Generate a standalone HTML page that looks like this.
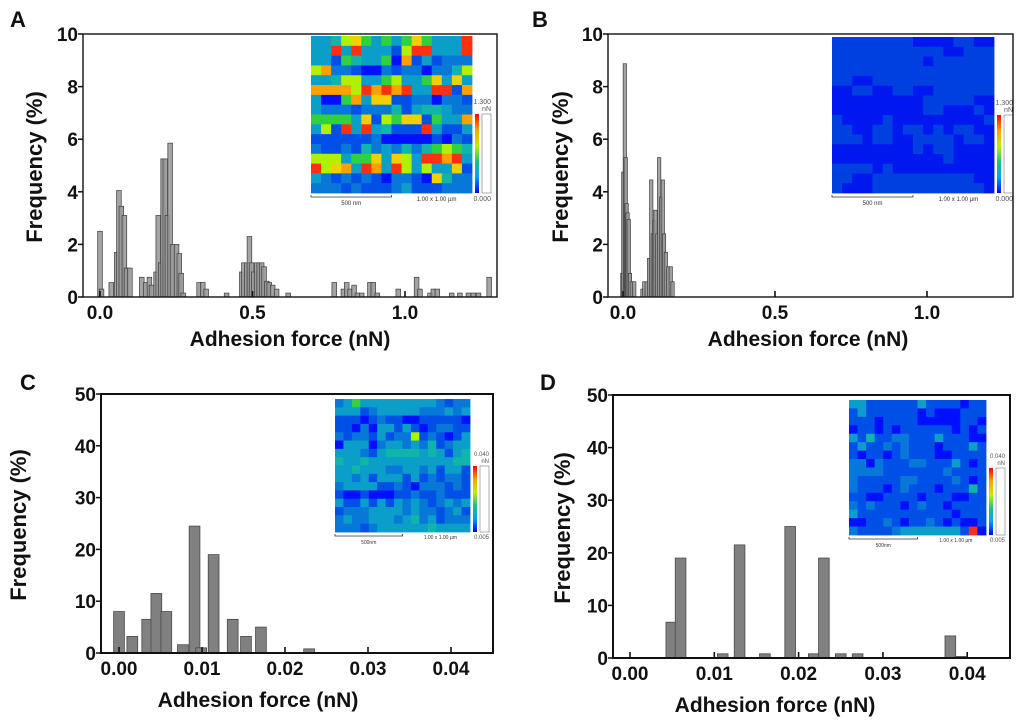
<!DOCTYPE html>
<html><head><meta charset="utf-8"><style>
html,body{margin:0;padding:0;background:#fff}
svg{display:block}
text{font-family:"Liberation Sans",Arial,sans-serif;font-weight:bold;fill:#111}
</style></head><body>
<svg id="fig" width="1024" height="720" viewBox="0 0 1024 720"></svg>
<script>
// ===== Panel A data =====
const aX=[0.000,0.005,0.037,0.055,0.062,0.070,0.080,0.087,0.098,0.137,0.150,0.162,0.169,0.184,0.191,0.199,0.207,0.214,0.221,0.230,0.238,0.251,0.260,0.266,0.273,0.325,0.337,0.348,0.415,0.465,0.472,0.481,0.490,0.497,0.505,0.514,0.522,0.530,0.538,0.547,0.555,0.566,0.579,0.617,0.768,0.798,0.809,0.820,0.833,0.844,0.858,0.885,0.896,0.909,0.978,1.038,1.049,1.082,1.093,1.106,1.153,1.180,1.208,1.224,1.241,1.276];
const aY=[2.5,0.3,0.55,1.7,4.05,3.45,3.1,1.1,1.1,0.75,0.55,0.75,0.45,0.95,3.1,1.3,5.25,5.25,3.1,5.85,2.0,2.0,1.65,0.9,0.15,0.55,0.55,0.3,0.15,0.95,1.3,1.3,2.3,1.3,0.95,1.3,1.3,1.3,1.15,0.6,0.55,0.45,0.3,0.15,0.55,0.3,0.55,0.3,0.45,0.15,0.15,0.55,0.55,0.15,0.3,0.75,0.3,0.15,0.3,0.3,0.15,0.15,0.15,0.15,0.15,0.75];
const aXTicks=[0,0.5,1.0];const aXLabels=["0.0","0.5","1.0"];
const aYTicks=[0,2,4,6,8,10];
const aMap=["3346753535753339","3393933316993339","3315433508131222","6822100212202246","3346633563357373","8888698989339918","3005837711220221","3222122241344322","5555371657715338","3619393411193113","1111112000001021","2112142324245654","6663557376399893","9678398396363371","3212121022107422","2221211123111222"];
// ===== Panel B data =====
const bX=[-0.002,0.001,0.006,0.009,0.012,0.015,0.019,0.023,0.029,0.037,0.064,0.070,0.078,0.086,0.093,0.098,0.103,0.107,0.113,0.119,0.125,0.131,0.135,0.141,0.149,0.157,0.163];
const bY=[0.9,4.75,8.87,5.3,3.55,3.2,2.95,0.9,0.58,0.58,0.3,0.58,0.58,1.47,4.45,2.4,2.9,3.3,2.4,5.3,3.8,4.45,2.4,1.7,1.15,1.15,0.58];
const bMap=["1111111100001100","1111111111100111","1111111110111111","1111111111111111","1100111111111111","0011001100111111","0000000001111100","0000000001100010","1000010000000001","1100110110101100","1110110011110110","0000000010110000","0000000000010000","1111010000000000","1100111111111100","1000111111111110"];
// ===== Panel C data =====
const cX=[0.0000,0.0016,0.0034,0.0045,0.0057,0.0077,0.0091,0.0099,0.0114,0.0137,0.0153,0.0171,0.0229];
const cY=[8,3.2,6.5,11.5,8,1.6,24.5,1,19,6.5,3.2,5,0.8];
const cXTicks=[0,0.01,0.02,0.03,0.04];const cXLabels=["0.00","0.01","0.02","0.03","0.04"];
const cYTicks=[0,10,20,30,40,50];
const cMap=["2353333333332122","3331233333222323","1110121100111110","1102033131012211","2122131226121013","0333023323241233","3332134444343134","4334333333333344","3343332233231331","3323133313121221","2333311210222121","1001000112112111","3113131323212323","1222333323221231","2322333234231222","2221233333343333"];
// ===== Panel D data =====
const dX=[0.0049,0.0060,0.0110,0.0130,0.0160,0.0190,0.0218,0.0230,0.0250,0.0270,0.0380,0.0392];
const dY=[6.8,19,0.8,21.5,0.8,25,0.8,19,0.8,0.8,4.2,0.3];
const dMap=["3311111131111011","1311111101000111","1110111100000110","0110101111110101","3141122111311100","1311212111011131","1011012111001111","2202111221113101","2222111111121111","2111112211112101","2111012111011141","1100111101110011","2121110121101111","3111111111110111","0011210112101001","2111123333333190"];

const pal=["#0010ff","#0050e8","#0878d8","#0a9ec8","#10b4a8","#30d040","#b0f000","#f0d000","#ffa000","#ff3010"];
const svg=document.getElementById('fig');const NS='http://www.w3.org/2000/svg';
function mk(t,a,p){const e=document.createElementNS(NS,t);for(const k in a)e.setAttribute(k,a[k]);(p||svg).appendChild(e);return e;}

function panel(o){
  const g=mk('g',{});
  
  
  const sx=v=>o.x0+(v-o.xmin)*o.kx, sy=v=>o.y0-v*o.ky;
  const L=mk('text',{x:o.lx,y:o.ly,'font-size':22},g);L.textContent=o.letter;
  
  
  const ig=mk('g',{},g);
  
  
  const n=o.map.length,m=o.map[0].length,cw=(o.ix1-o.ix0)/m,ch=(o.iy1-o.iy0)/n;
  for(let r=0;r<n;r++)for(let c=0;c<m;c++){
    const cell=mk('rect',{x:(o.ix0+c*cw).toFixed(2),y:(o.iy0+r*ch).toFixed(2),width:(cw+0.4).toFixed(2),height:(ch+0.4).toFixed(2),fill:(o.pal||pal)[+o.map[r][c]]},ig);
    
    
  }
  const gid='cb'+o.letter;
  const gr=mk('linearGradient',{id:gid,x1:0,y1:1,x2:0,y2:0},ig);
  ["#0000ff","#00a0ff","#20c080","#c0f000","#ffa000","#ff0000"].forEach((c,i)=>mk('stop',{offset:i/5,'stop-color':c},gr));
  const cbx=o.ix1+3;
  const cb=mk('rect',{x:cbx,y:o.cby,width:4,height:o.iy1-o.cby,fill:'url(#'+gid+')'},ig);
  
  
  mk('rect',{x:cbx+7,y:o.cby,width:9,height:o.iy1-o.cby,fill:'#fff',stroke:'#777','stroke-width':0.6},ig);
  const fs=o.small;
  let t=mk('text',{x:cbx+16,y:o.cby-10,'font-size':fs,'text-anchor':'end',style:'font-weight:normal;fill:#555'},ig);t.textContent=o.cmax;
  t=mk('text',{x:cbx+16,y:o.cby-3,'font-size':fs,'text-anchor':'end',style:'font-weight:normal;fill:#555'},ig);t.textContent='nN';
  t=mk('text',{x:cbx+16,y:o.iy1+fs+1,'font-size':fs,'text-anchor':'end',style:'font-weight:normal;fill:#555'},ig);t.textContent=o.cmin;
  const sbw=(o.ix1-o.ix0)/2;
  mk('path',{d:`M${o.ix0},${o.iy1+2}v2h${sbw}v-2`,stroke:'#333',fill:'none','stroke-width':0.8},ig);
  t=mk('text',{x:o.ix0+sbw/2,y:o.iy1+12,'font-size':fs-1,'text-anchor':'middle',style:'font-weight:normal;fill:#333'},ig);t.textContent=o.sbl;
  t=mk('text',{x:o.ix0+(o.ix1-o.ix0)*0.78,y:o.iy1+fs+1,'font-size':fs-1,'text-anchor':'middle',style:'font-weight:normal;fill:#333'},ig);t.textContent='1.00 x 1.00 µm';
  const bg=mk('g',{},g);
  
  
  o.xs.forEach((v,i)=>{
    const h=o.ys[i]*o.ky, w=o.bw*o.kx;
    const b=mk('rect',{x:(sx(v)-w/2).toFixed(2),y:sy(o.ys[i]).toFixed(2),width:w.toFixed(2),height:h.toFixed(2),fill:o.fill,stroke:o.stroke,'stroke-width':o.sw,'fill-opacity':o.fo},bg);
    
    
  });
  const box=mk('rect',{x:o.bx0,y:o.by0,width:o.bx1-o.bx0,height:o.y0-o.by0,fill:'none',stroke:'#111','stroke-width':o.bsw},g);
  
  
  o.yt.forEach(v=>{
    mk('line',{x1:o.bx0-5,x2:o.bx0,y1:sy(v),y2:sy(v),stroke:'#111','stroke-width':1.5},g);
    const yl=mk('text',{x:o.bx0-5,y:sy(v)+7,'font-size':o.tfs,'text-anchor':'end'},g);yl.textContent=v;
    
    
  });
  o.xt.forEach((v,i)=>{
    mk('line',{x1:sx(v),x2:sx(v),y1:o.y0,y2:o.y0-6,stroke:'#111','stroke-width':1.6},g);
    const xl=mk('text',{x:sx(v),y:o.y0+o.tfs+3,'font-size':o.tfs,'text-anchor':'middle'},g);xl.textContent=o.xl[i];
    
    
  });
  const xt=mk('text',{x:o.xtx,y:o.xty,'font-size':21,'text-anchor':'middle'},g);xt.textContent='Adhesion force (nN)';
  
  
  const yt=mk('text',{x:0,y:0,'font-size':22,'text-anchor':'middle',transform:`translate(${o.ytx},${o.yty}) rotate(-90)`},g);yt.textContent='Frequency (%)';
  
  
}
const bPal=["#0018f0","#0040e0","#0860d8","#0a9ec8","#10b4a8","#30d040","#b0f000","#f0d000","#ffa000","#ff3010"];
panel({name:'panel-a',letter:'A',lx:10,ly:27,xs:aX,ys:aY,bw:0.0153,xmin:0,x0:100,kx:305,y0:297,ky:26.3,bx0:83,bx1:497,by0:34,bsw:1.4,
  yt:aYTicks,xt:aXTicks,xl:aXLabels,tfs:19,xtx:290,xty:346,ytx:42,yty:167,fill:'#9a9a9a',stroke:'#3c3c3c',sw:0.7,fo:0.9,
  map:aMap,ix0:311,ix1:472,iy0:36,iy1:193,cby:114,cmax:'1.300',cmin:'0.000',sbl:'500 nm',small:7});
panel({name:'panel-b',letter:'B',lx:532,ly:27,xs:bX,ys:bY,bw:0.011,xmin:0,x0:623,kx:304,y0:297,ky:26.3,bx0:608,bx1:1013,by0:34,bsw:1.4,
  yt:aYTicks,xt:aXTicks,xl:aXLabels,tfs:19,xtx:808,xty:346,ytx:568,yty:167,fill:'#9a9a9a',stroke:'#3c3c3c',sw:0.7,fo:0.9,pal:bPal,
  map:bMap,ix0:832,ix1:994,iy0:37,iy1:193,cby:115,cmax:'1.300',cmin:'0.000',sbl:'500 nm',small:7});
panel({name:'panel-c',letter:'C',lx:20,ly:390,xs:cX,ys:cY,bw:0.0013,xmin:0,x0:119,kx:8300,y0:653,ky:5.18,bx0:101,bx1:493,by0:394,bsw:2,
  yt:cYTicks,xt:cXTicks,xl:cXLabels,tfs:19,xtx:258,xty:707,ytx:26,yty:525,fill:'#808080',stroke:'#4a4a4a',sw:0.8,fo:1,
  map:cMap,ix0:335,ix1:470,iy0:399,iy1:532,cby:466,cmax:'0.040',cmin:'0.005',sbl:'500nm',small:6});
panel({name:'panel-d',letter:'D',lx:540,ly:390,xs:dX,ys:dY,bw:0.00127,xmin:0,x0:630,kx:8430,y0:658,ky:5.26,bx0:613,bx1:1010,by0:395,bsw:2,
  yt:cYTicks,xt:cXTicks,xl:cXLabels,tfs:19,xtx:775,xty:712,ytx:570,yty:528,fill:'#808080',stroke:'#4a4a4a',sw:0.8,fo:1,
  map:dMap,ix0:849,ix1:986,iy0:400,iy1:535,cby:468,cmax:'0.040',cmin:'0.005',sbl:'500nm',small:6});
</script>
</body></html>
